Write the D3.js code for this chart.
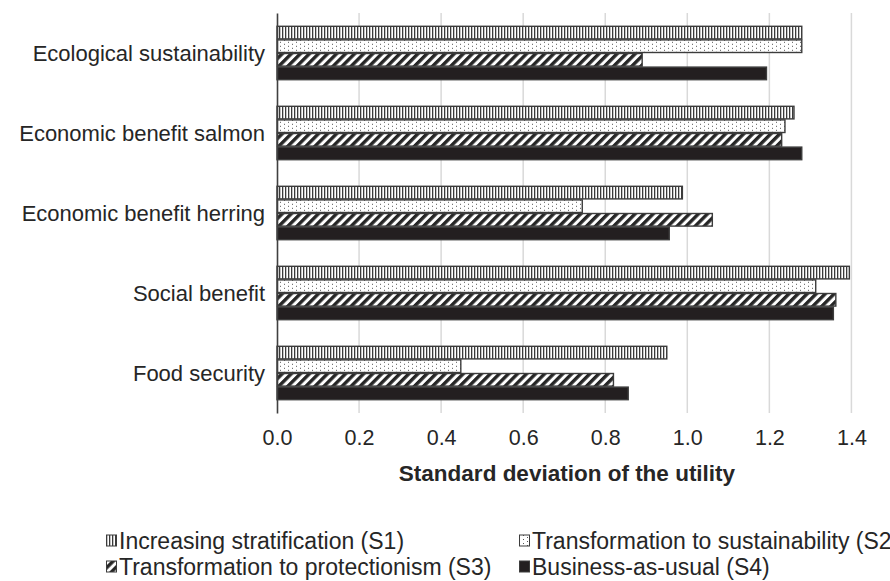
<!DOCTYPE html>
<html>
<head>
<meta charset="utf-8">
<script src="https://cdn.jsdelivr.net/npm/d3@7"></script>
<style>
  html, body { margin: 0; padding: 0; background: #fff; overflow: hidden; }
  svg { display: block; font-family: "Liberation Sans", Arial, sans-serif; }
</style>
</head>
<body>
<svg id="chart" width="890" height="581"></svg>
<script>
// Indicators (top to bottom) and scenarios
const categories = [
  "Ecological sustainability",
  "Economic benefit salmon",
  "Economic benefit herring",
  "Social benefit",
  "Food security"
];
const seriesNames = [
  "Increasing stratification (S1)",
  "Transformation to sustainability (S2)",
  "Transformation to protectionism (S3)",
  "Business-as-usual (S4)"
];
// Standard deviation of the utility per scenario, in category order
const s1 = [1.279, 1.260, 0.988, 1.395, 0.950];
const s2 = [1.279, 1.238, 0.744, 1.313, 0.448];
const s3 = [0.890, 1.230, 1.061, 1.362, 0.820];
const s4 = [1.193, 1.279, 0.956, 1.356, 0.856];
const xTicks = [0.0, 0.2, 0.4, 0.6, 0.8, 1.0, 1.2, 1.4];
const seriesValues = [s1, s2, s3, s4];
const seriesKeys = ["s1", "s2", "s3", "s4"];

const svg = d3.select("#chart");
const margin = { left: 277, top: 13, bottom: 413 };

const x = d3.scaleLinear().domain([0, 1]).range([margin.left, 687.3]);
const y = d3.scaleBand().domain(categories).range([margin.top, margin.bottom])
  .paddingInner(0.32).paddingOuter(0.16);
const ySub = d3.scaleBand().domain(seriesKeys).range([0, y.bandwidth()]);

// Fill patterns
const defs = svg.append("defs");

const pV = defs.append("pattern").attr("id", "pat-s1")
  .attr("patternUnits", "userSpaceOnUse").attr("width", 3).attr("height", 10);
pV.append("rect").attr("width", 3).attr("height", 10).attr("fill", "#fff");
pV.append("rect").attr("x", 0).attr("width", 1.3).attr("height", 10).attr("fill", "#3a3a3a");

const pD = defs.append("pattern").attr("id", "pat-s2")
  .attr("patternUnits", "userSpaceOnUse").attr("width", 8).attr("height", 4);
pD.append("rect").attr("width", 8).attr("height", 4).attr("fill", "#fff");
pD.append("rect").attr("x", 0).attr("y", 0).attr("width", 1).attr("height", 1).attr("fill", "#555");
pD.append("rect").attr("x", 4).attr("y", 2).attr("width", 1).attr("height", 1).attr("fill", "#555");

const pS = defs.append("pattern").attr("id", "pat-s3")
  .attr("patternUnits", "userSpaceOnUse").attr("width", 6.4).attr("height", 6.4)
  .attr("patternTransform", "rotate(45)");
pS.append("rect").attr("width", 6.4).attr("height", 6.4).attr("fill", "#fff");
pS.append("rect").attr("x", 0).attr("width", 3.4).attr("height", 6.4).attr("fill", "#262626");

const fills = {
  s1: "url(#pat-s1)",
  s2: "url(#pat-s2)",
  s3: "url(#pat-s3)",
  s4: "#231f20"
};

// Vertical gridlines
svg.append("g").selectAll("line").data(xTicks.filter(d => d > 0)).join("line")
  .attr("x1", d => x(d)).attr("x2", d => x(d))
  .attr("y1", margin.top).attr("y2", margin.bottom)
  .attr("stroke", "#d9d9d9").attr("stroke-width", 1.5);

// Bars
const groups = svg.append("g").selectAll("g").data(categories).join("g")
  .attr("transform", d => `translate(0,${y(d)})`);
groups.selectAll("rect")
  .data((c, i) => seriesKeys.map((k, j) => ({ key: k, value: seriesValues[j][i] })))
  .join("rect")
  .attr("x", x(0))
  .attr("y", d => ySub(d.key) + 0.5)
  .attr("width", d => x(d.value) - x(0))
  .attr("height", ySub.bandwidth() - 1)
  .attr("fill", d => fills[d.key])
  .attr("stroke", "#3c3c3c")
  .attr("stroke-width", 1.4);

// X axis (labels only)
const xAxis = d3.axisBottom(x).tickValues(xTicks).tickFormat(d3.format(".1f"))
  .tickSize(0).tickPadding(0);
const gx = svg.append("g").attr("transform", `translate(0,${margin.bottom})`).call(xAxis);
gx.select(".domain").remove();
gx.selectAll("text").attr("font-size", 21.5).attr("fill", "#262626")
  .attr("font-family", "Liberation Sans, Arial, sans-serif").attr("dy", 0).attr("y", 31.5);

// Y axis (line + category labels)
const yAxis = d3.axisLeft(y).tickSize(0).tickPadding(12);
const gy = svg.append("g").attr("transform", `translate(${margin.left},0)`).call(yAxis);
gy.select(".domain").attr("stroke", "#404040").attr("stroke-width", 1.6);
gy.selectAll("text").attr("font-size", 22).attr("fill", "#262626")
  .attr("font-family", "Liberation Sans, Arial, sans-serif").attr("dy", "0.35em");

// Axis title
svg.append("text").attr("x", 567).attr("y", 481).attr("text-anchor", "middle")
  .attr("font-size", 22.5).attr("font-weight", "bold").attr("fill", "#262626")
  .text("Standard deviation of the utility");

// Legend (two columns, two rows)
const legendPos = [
  { x: 106, y: 549 },
  { x: 519, y: 549 },
  { x: 106, y: 575 },
  { x: 519, y: 575 }
];
const lg = svg.append("g").selectAll("g").data(seriesKeys).join("g")
  .attr("transform", (d, i) => `translate(${legendPos[i].x},${legendPos[i].y})`);
lg.append("rect").attr("x", 0.5).attr("y", -14).attr("width", 10).attr("height", 11)
  .attr("fill", d => fills[d]).attr("stroke", "#3c3c3c").attr("stroke-width", 1);
lg.append("text").attr("x", 13).attr("y", 0).attr("font-size", 23).attr("fill", "#262626")
  .text((d, i) => seriesNames[i]);
</script>
</body>
</html>
